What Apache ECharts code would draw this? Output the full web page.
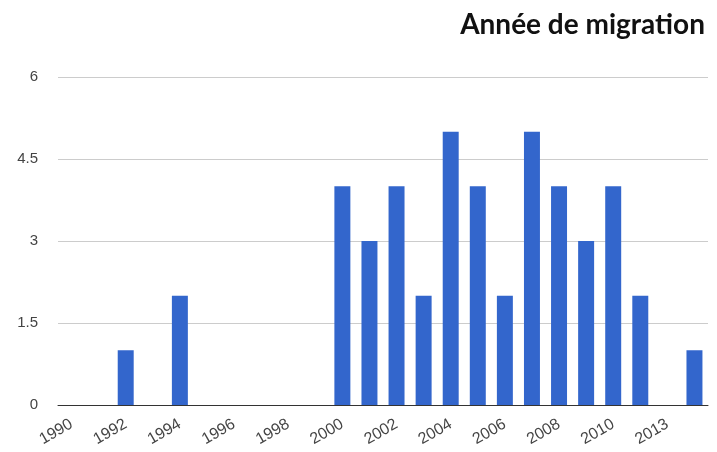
<!DOCTYPE html>
<html>
<head>
<meta charset="utf-8">
<script src="https://cdn.jsdelivr.net/npm/echarts@6/dist/echarts.min.js"></script>
<style>
    html, body { margin: 0; padding: 0; background: #fff; }
    #chart { width: 717px; height: 452px; }
</style>
</head>
<body>
<div id="chart"></div>
<script>
    // années (catégories) et nombre de migrations
    const years = ['1990', '1991', '1992', '1993', '1994', '1995', '1996', '1997', '1998', '1999',
        '2000', '2001', '2002', '2003', '2004', '2005', '2006', '2007', '2008', '2009',
        '2010', '2011', '2013', '2014'];
    const counts = [0, 0, 1, 0, 2, 0, 0, 0, 0, 0,
        4, 3, 4, 2, 5, 4, 2, 5, 4, 3,
        4, 2, 0, 1];
    const yTicks = [0, 1.5, 3, 4.5, 6];

    const chart = echarts.init(document.getElementById('chart'));
    const option = {
        animation: false,
        title: {
            text: 'Année de migration',
            right: 7,
            top: 6,
            textStyle: {
                fontFamily: 'Lato',
                fontWeight: 'bold',
                fontSize: 28,
                color: '#111'
            }
        },
        grid: {
            left: 58,
            right: 9,
            top: 77,
            bottom: 47
        },
        xAxis: {
            type: 'category',
            data: years,
            axisTick: { show: false },
            axisLine: { lineStyle: { color: '#333', width: 1 } },
            axisLabel: {
                interval: 1,
                rotate: 30,
                margin: 18,
                color: '#444',
                fontFamily: 'Liberation Sans',
                fontSize: 16
            }
        },
        yAxis: {
            type: 'value',
            min: yTicks[0],
            max: yTicks[yTicks.length - 1],
            interval: 1.5,
            axisLine: { show: false },
            axisTick: { show: false },
            splitLine: { lineStyle: { color: '#ccc' } },
            axisLabel: {
                margin: 20,
                color: '#444',
                fontFamily: 'Liberation Sans',
                fontSize: 15
            }
        },
        series: [{
            type: 'bar',
            data: counts,
            barCategoryGap: '41%',
            itemStyle: { color: '#3366cc' }
        }]
    };
    chart.setOption(option);
</script>
</body>
</html>
